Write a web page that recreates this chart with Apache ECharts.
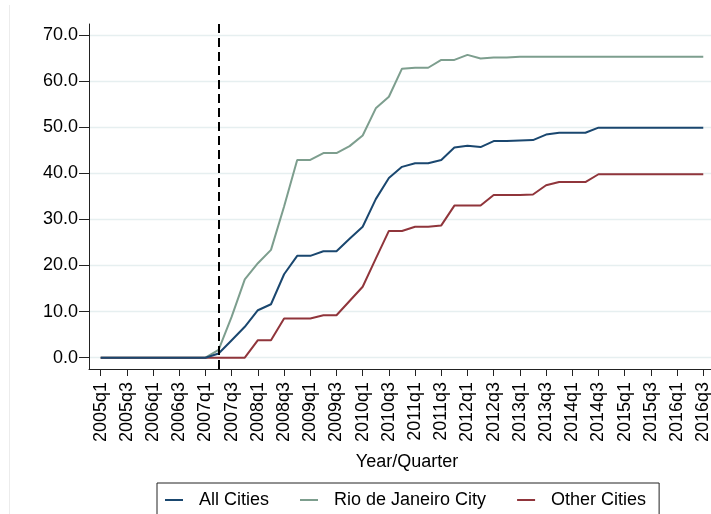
<!DOCTYPE html>
<html><head><meta charset="utf-8">
<script src="https://cdn.jsdelivr.net/npm/echarts@6/dist/echarts.min.js"></script>
<style>html,body{margin:0;padding:0;background:#fff}#c{width:711px;height:514px}</style>
</head><body><div id="c"></div>
<script>
const quarters = [
  '2005q1','2005q2','2005q3','2005q4','2006q1','2006q2','2006q3','2006q4',
  '2007q1','2007q2','2007q3','2007q4','2008q1','2008q2','2008q3','2008q4',
  '2009q1','2009q2','2009q3','2009q4','2010q1','2010q2','2010q3','2010q4',
  '2011q1','2011q2','2011q3','2011q4','2012q1','2012q2','2012q3','2012q4',
  '2013q1','2013q2','2013q3','2013q4','2014q1','2014q2','2014q3','2014q4',
  '2015q1','2015q2','2015q3','2015q4','2016q1','2016q2','2016q3'
];
const xTickLabels = [
  '2005q1','2005q3','2006q1','2006q3','2007q1','2007q3','2008q1','2008q3',
  '2009q1','2009q3','2010q1','2010q3','2011q1','2011q3','2012q1','2012q3',
  '2013q1','2013q3','2014q1','2014q3','2015q1','2015q3','2016q1','2016q3'
];
const yTickValues = [0, 10, 20, 30, 40, 50, 60, 70];
const treatmentQuarter = '2007q2';
const seriesNames = ['All Cities', 'Rio de Janeiro City', 'Other Cities'];

const allCities = [
  0,0,0,0,0,0,0,0,0,
  0.9,3.8,6.7,10.3,11.6,18.1,22.1,22.1,23.1,23.1,
  25.8,28.4,34.4,39.0,41.4,42.2,42.2,42.9,45.6,46.0,
  45.7,47.0,47.0,47.1,47.2,48.4,48.8,48.8,48.8,49.9,
  49.9,49.9,49.9,49.9,49.9,49.9,49.9,49.9
];
const rioCity = [
  0,0,0,0,0,0,0,0,0,
  1.7,8.9,17.0,20.5,23.4,32.8,42.9,42.9,44.4,44.4,
  45.9,48.2,54.1,56.6,62.7,62.9,62.9,64.6,64.6,65.7,
  64.9,65.1,65.1,65.3,65.3,65.3,65.3,65.3,65.3,65.3,
  65.3,65.3,65.3,65.3,65.3,65.3,65.3,65.3
];
const otherCities = [
  0,0,0,0,0,0,0,0,0,0,0,0,
  3.8,3.8,8.5,8.5,8.5,9.2,9.2,
  12.3,15.4,21.5,27.5,27.5,28.4,28.4,28.7,33.0,33.0,
  33.0,35.3,35.3,35.3,35.4,37.4,38.1,38.1,38.1,39.8,
  39.8,39.8,39.8,39.8,39.8,39.8,39.8,39.8
];

const FONT = "'Liberation Sans', Arial, Helvetica, sans-serif";
const colors = ['#1a476f', '#7d9e8e', '#90353b'];
const xTickValues = xTickLabels.map(l => quarters.indexOf(l));
const toPairs = arr => arr.map((v, i) => [i, v]);

const chart = echarts.init(document.getElementById('c'), null, {renderer: 'canvas'});
chart.setOption({
  animation: false,
  backgroundColor: '#fff',
  textStyle: {fontFamily: FONT},
  graphic: [{
    type: 'line', silent: true,
    shape: {x1: 9.5, y1: 5, x2: 9.5, y2: 514},
    style: {stroke: '#ececec', lineWidth: 1}
  }],
  grid: {left: 89, right: 0, top: 24, bottom: 145, containLabel: false, outerBoundsMode: 'none'},
  legend: {
    left: 157, top: 483,
    padding: [8, 13, 14, 8],
    itemGap: 31, itemWidth: 18, itemHeight: 2, icon: 'rect',
    borderColor: '#222', borderWidth: 1,
    textStyle: {fontSize: 18, color: '#000', fontFamily: FONT, padding: [0, 0, 0, 11]},
    data: seriesNames
  },
  xAxis: {
    type: 'value', min: -0.893, max: 46.59,
    axisLine: {show: true, onZero: false, lineStyle: {color: '#222', width: 1}},
    axisTick: {show: true, length: 7, customValues: xTickValues, lineStyle: {color: '#222'}},
    axisLabel: {
      customValues: xTickValues, rotate: 90, margin: 13,
      fontSize: 18, color: '#000', fontFamily: FONT,
      formatter: v => quarters[Math.round(v)]
    },
    splitLine: {show: false},
    name: 'Year/Quarter', nameLocation: 'middle', nameGap: 84,
    nameTextStyle: {fontSize: 18, color: '#000', fontFamily: FONT, padding: [0, 0, 0, 14]}
  },
  yAxis: {
    type: 'value', min: -2.45, max: 72.39,
    axisLine: {show: true, onZero: false, lineStyle: {color: '#222', width: 1}},
    axisTick: {show: true, length: 10, customValues: yTickValues, lineStyle: {color: '#222'}},
    axisLabel: {
      customValues: yTickValues, margin: 11,
      fontSize: 18, color: '#000', fontFamily: FONT,
      formatter: v => v.toFixed(1)
    },
    splitLine: {show: true, lineStyle: {color: '#e6eff0', width: 1.3}}
  },
  series: [
    {
      name: seriesNames[0], type: 'line', data: toPairs(allCities),
      showSymbol: false, symbol: 'none', color: colors[0],
      lineStyle: {width: 2, color: colors[0]}, z: 3,
      markLine: {
        silent: true, symbol: 'none', animation: false,
        label: {show: false},
        lineStyle: {color: '#000', type: [9, 5], width: 2},
        data: [{xAxis: quarters.indexOf(treatmentQuarter)}]
      }
    },
    {
      name: seriesNames[1], type: 'line', data: toPairs(rioCity),
      showSymbol: false, symbol: 'none', color: colors[1],
      lineStyle: {width: 2, color: colors[1]}, z: 2
    },
    {
      name: seriesNames[2], type: 'line', data: toPairs(otherCities),
      showSymbol: false, symbol: 'none', color: colors[2],
      lineStyle: {width: 2, color: colors[2]}, z: 2
    }
  ]
});
</script>
</body></html>
